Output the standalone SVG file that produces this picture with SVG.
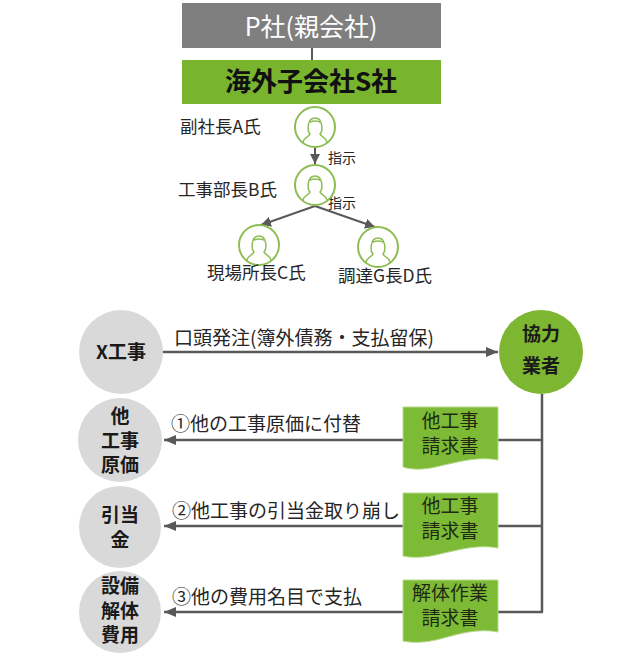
<svg xmlns="http://www.w3.org/2000/svg" xmlns:xlink="http://www.w3.org/1999/xlink" width="636" height="665" viewBox="0 0 636 665">
<style>
text{font-family:'Noto Sans CJK JP','Noto Sans',sans-serif;fill:#262626}
.lbl{font-size:17.5px}
.small{font-size:14px}
.edge{font-size:19px}
.circ{font-size:19px;font-weight:bold;text-anchor:middle;fill:#1a1a1a}
.doc{font-size:19px;text-anchor:middle;fill:#1f2a14}
.ln{stroke:#595959;stroke-width:2.5;fill:none}
.ln2{stroke:#595959;stroke-width:2;fill:none}
.pc{fill:#fff;stroke:#8cbd52;stroke-width:2}
.pi{fill:none;stroke:#8cbd52;stroke-width:1.5;stroke-linecap:round}
.gray{fill:#d9d9d9}
.docs{fill:#7dba35;stroke:#b9d98f;stroke-width:1}
</style>
<defs>
<marker id="ah" viewBox="0 0 12 10" refX="12" refY="5" markerWidth="12" markerHeight="10" markerUnits="userSpaceOnUse" orient="auto">
<path d="M0,0 L12,5 L0,10 z" fill="#595959"/>
</marker>
<marker id="ahs" viewBox="0 0 10 10" refX="10" refY="5" markerWidth="10" markerHeight="10" markerUnits="userSpaceOnUse" orient="auto">
<path d="M0,0 L10,5 L0,10 z" fill="#595959"/>
</marker>
<g id="person">
<circle class="pc" cx="0" cy="0" r="20"/>
<path class="pi" d="M-12,15 C-11,10 -6,10 -5,7 C-8,4 -8,-9 0,-9 C8,-9 8,4 5,7 C6,10 11,10 12,15"/>
<path class="pi" d="M-5,-5 Q0,-7 5,-5"/>
</g>
</defs>

<g id="connectors">
<line class="ln2" x1="312" y1="48" x2="312" y2="60"/>
<line class="ln2" x1="315" y1="147" x2="315" y2="164" marker-end="url(#ahs)"/>
<line class="ln2" x1="315" y1="206" x2="261" y2="225" marker-end="url(#ahs)"/>
<line class="ln2" x1="315" y1="206" x2="375" y2="227" marker-end="url(#ahs)"/>
<line class="ln" x1="163" y1="352" x2="498" y2="352" marker-end="url(#ah)"/>
<polyline class="ln" points="542,394 542,612"/>
<line class="ln" x1="543" y1="440" x2="164" y2="440" marker-end="url(#ah)"/>
<line class="ln" x1="543" y1="526" x2="164" y2="526" marker-end="url(#ah)"/>
<line class="ln" x1="543" y1="612" x2="164" y2="612" marker-end="url(#ah)"/>
<text class="small" x="328" y="163">指示</text>
<text class="small" x="328" y="208">指示</text>
<text class="edge" x="174" y="345">口頭発注(簿外債務・支払留保)</text>
<text class="edge" x="171" y="431">①他の工事原価に付替</text>
<text class="edge" x="172" y="518">②他工事の引当金取り崩し</text>
<text class="edge" x="172" y="604">③他の費用名目で支払</text>
</g>

<g id="parent">
<rect x="182" y="3" width="259" height="45" fill="#7f7f7f"/>
<text x="311" y="35.5" style="font-size:25px;fill:#fff;text-anchor:middle">P社(親会社)</text>
</g>
<g id="subsidiary">
<rect x="182" y="60" width="259" height="44" fill="#78b42e"/>
<text x="311" y="91" style="font-size:26px;font-weight:bold;fill:#111;text-anchor:middle">海外子会社S社</text>
</g>

<g id="personA">
<use xlink:href="#person" x="315" y="127"/>
<text class="lbl" x="180" y="133">副社長A氏</text>
</g>
<g id="personB">
<use xlink:href="#person" x="315" y="185"/>
<text class="lbl" x="178" y="196">工事部長B氏</text>
</g>
<g id="personC">
<use xlink:href="#person" x="259" y="245"/>
<text class="lbl" x="207" y="279">現場所長C氏</text>
</g>
<g id="personD">
<use xlink:href="#person" x="378" y="247"/>
<text class="lbl" x="338" y="282">調達G長D氏</text>
</g>

<g id="xkouji">
<circle class="gray" cx="121" cy="352" r="42"/>
<text class="circ" x="121" y="359">X工事</text>
</g>
<g id="kyoryoku">
<circle cx="541" cy="352" r="42" fill="#7db631"/>
<text class="circ" x="541" y="341">協力</text>
<text class="circ" x="541" y="373">業者</text>
</g>

<g id="tagenka">
<circle class="gray" cx="120" cy="440" r="42"/>
<text class="circ" x="120" y="423">他</text>
<text class="circ" x="120" y="447.5">工事</text>
<text class="circ" x="120" y="472">原価</text>
</g>
<g id="hikiate">
<circle class="gray" cx="120" cy="527" r="41"/>
<text class="circ" x="120" y="522">引当</text>
<text class="circ" x="120" y="546.5">金</text>
</g>
<g id="setsubi">
<circle class="gray" cx="120" cy="612" r="41"/>
<text class="circ" x="120" y="593">設備</text>
<text class="circ" x="120" y="617.5">解体</text>
<text class="circ" x="120" y="642">費用</text>
</g>

<g id="doc1">
<path class="docs" d="M403,407 H498 V460 C478,456 458,462 440,466 C425,470 412,470 403,467 Z"/>
<text class="doc" x="450" y="428">他工事</text>
<text class="doc" x="450" y="452.5">請求書</text>
</g>
<g id="doc2">
<path class="docs" d="M403,493 H498 V548 C478,544 458,550 440,554 C425,558 412,558 403,556 Z"/>
<text class="doc" x="450" y="513">他工事</text>
<text class="doc" x="450" y="537.5">請求書</text>
</g>
<g id="doc3">
<path class="docs" d="M403,580 H498 V632 C478,628 458,634 440,639 C425,643 412,643 403,641 Z"/>
<text class="doc" x="450" y="600">解体作業</text>
<text class="doc" x="450" y="624.5">請求書</text>
</g>
</svg>
